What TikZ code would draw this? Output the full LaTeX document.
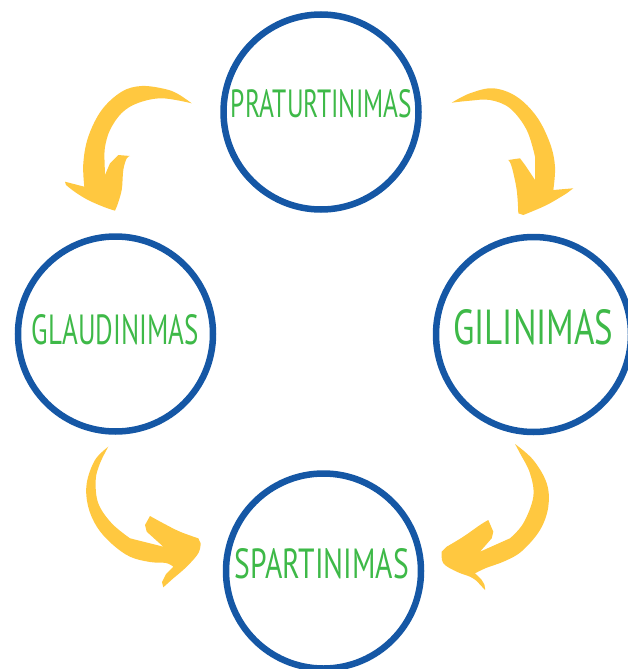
\documentclass[tikz,border=0pt]{standalone}
\usepackage{fontspec}
\setmainfont{PT Sans}
\definecolor{ringblue}{HTML}{1557A5}
\definecolor{txtgreen}{HTML}{3EB948}
\definecolor{arrowyellow}{HTML}{FFC840}
\tikzset{
  ring/.style={circle, draw=ringblue, line width=6.5pt, minimum size=195pt, inner sep=0pt},
  label/.style={text=txtgreen, inner sep=0pt},
  bigarrow/.style={fill=arrowyellow},
}
\newcommand{\lbl}[3]{\resizebox{#1pt}{#2pt}{#3}}
\begin{document}
\begin{tikzpicture}[x=1pt,y=-1pt]
\useasboundingbox (0,0) rectangle (628,669);
\clip (0,0) rectangle (628,669);
% circles
\node[ring] (top) at (321,112) {};
\node[ring] (left) at (115.5,334) {};
\node[ring] (right) at (533.5,334.5) {};
\node[ring] (bottom) at (323.5,571) {};
% labels
\node[label] (ttop) at (321.5,104) {\lbl{181}{28}{PRATURTINIMAS}};
\node[label] (tleft) at (115.3,329.3) {\lbl{167}{30}{GLAUDINIMAS}};
\node[label] (tright) at (533.3,327.5) {\lbl{160}{35}{GILINIMAS}};
\node[label] (tbottom) at (322,563.3) {\lbl{174}{30}{SPARTINIMAS}};
% arrow 1 (top -> left)
\fill[bigarrow] plot[smooth, tension=0.6] coordinates {(191.7,103.3) (178,94) (165,89) (141.7,86) (121.7,91.7) (101.7,110) (88.3,136.7) (83.3,163.3) (84.3,186.7)}
  -- (65,181.7)
  -- plot[smooth, tension=0.6] coordinates {(66,185) (75,192) (88,200) (104,207) (115,210.7)}
  -- plot[smooth, tension=0.6] coordinates {(117,206) (121.7,190) (123.3,170) (126.7,158.3) (130,156)}
  -- (118.3,155) -- (110,163.3) -- (105,175)
  -- plot[smooth, tension=0.6] coordinates {(104.5,160) (105,147) (110,130) (121.7,113) (138,103) (162,98.3) (191.7,103.3)}
  -- cycle;
% arrow 2 (top -> right)
\fill[bigarrow] plot[smooth, tension=0.6] coordinates {(451.7,102.7) (470,93.3) (493.3,88.3) (516.7,96.7) (536.7,116.7) (550,143.3) (555,166.7) (553.3,190)}
  -- (573.3,188.3)
  -- plot[smooth, tension=0.6] coordinates {(566.7,193.3) (546.7,205) (523.3,215)}
  -- plot[smooth, tension=0.6] coordinates {(518.3,213.3) (516.7,190) (511.7,166.7) (508.3,160)}
  -- (520,158.3) -- (525,165) -- (535,180)
  -- plot[smooth, tension=0.6] coordinates {(535,156.7) (526.7,130) (510,108.3) (490,100) (470,100.7) (451.7,102.7)}
  -- cycle;
% arrow 3 (left -> bottom)
\fill[bigarrow] plot[smooth, tension=0.6] coordinates {(108.3,446.7) (95,460) (86.7,483.3) (88,506) (97,527) (112,544) (130,556.7) (150,562) (166,563) (173.3,566.7)}
  -- (166,574) -- (162,582) -- (163.3,587.3)
  -- plot[smooth, tension=0.6] coordinates {(173.3,578.3) (186.7,566.7) (198.3,553.3) (200.7,543.3)}
  -- plot[smooth, tension=0.6] coordinates {(198.3,538.3) (180,531.7) (163.3,523.3) (150,516)}
  -- (145,525) -- (146.7,531.7) -- (163.3,546.7)
  -- plot[smooth, tension=0.6] coordinates {(130,538.3) (111.7,523.3) (98.3,503.3) (95.7,480) (100,463.3) (108.3,446.7)}
  -- cycle;
% arrow 4 (right -> bottom)
\fill[bigarrow] plot[smooth, tension=0.6] coordinates {(515,444) (533.3,460) (546.7,483.3) (548.3,506.7) (540,530) (522,551) (505,561) (486,568) (475,573.3)}
  -- plot[smooth, tension=0.6] coordinates {(481,579) (484.5,585) (485,590)}
  -- plot[smooth, tension=0.6] coordinates {(476.7,581) (470,576.7) (456.7,571.7) (443.3,563.3) (441.7,551.7)}
  -- plot[smooth, tension=0.6] coordinates {(446.7,546.7) (463.3,536.7) (480,525) (488.3,520)}
  -- (493.3,531.7) -- (491.7,538.3) -- (480,551.7)
  -- plot[smooth, tension=0.6] coordinates {(510,538.3) (523.3,523.3) (533.3,496.7) (530,473.3) (520,453.3) (515,444)}
  -- cycle;
\end{tikzpicture}
\end{document}
